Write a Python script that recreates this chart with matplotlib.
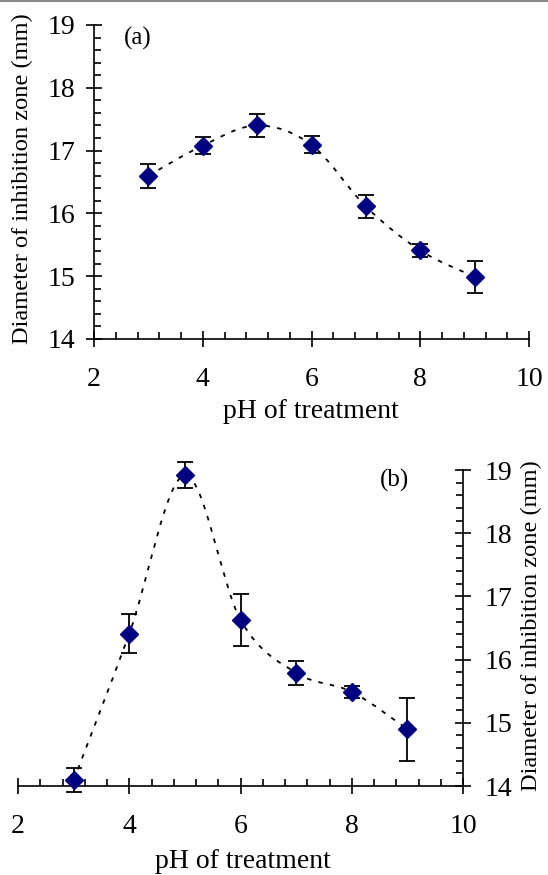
import matplotlib
matplotlib.use("Agg")
import matplotlib.pyplot as plt
from matplotlib.path import Path
from matplotlib.patches import PathPatch
from matplotlib.lines import Line2D
from matplotlib.ticker import MultipleLocator

plt.rcParams['font.family'] = ['Liberation Serif', 'DejaVu Serif']

# ---- data ----
ph = [3, 4, 5, 6, 7, 8, 9]
zone_a = [16.60, 17.08, 17.40, 17.09, 16.11, 15.41, 14.99]
err_a = [0.19, 0.14, 0.18, 0.135, 0.18, 0.10, 0.25]
zone_b = [14.09, 16.41, 18.92, 16.63, 15.79, 15.49, 14.90]
err_b = [0.19, 0.31, 0.21, 0.41, 0.19, 0.10, 0.50]

x_ticks = [2, 4, 6, 8, 10]
y_ticks = [14, 15, 16, 17, 18, 19]
xlabel = "pH of treatment"
ylabel = "Diameter of inhibition zone (mm)"

W, H = 548, 875
fig = plt.figure(figsize=(W / 100, H / 100), dpi=100)
FS = 20
FS_Y = 17.6


def smooth_path(xs, ys):
    """Excel-style smoothed line as cubic Bezier segments through the points."""
    pts = list(zip(xs, ys))
    n = len(pts)
    verts = [pts[0]]
    codes = [Path.MOVETO]
    for i in range(n - 1):
        p0 = pts[i - 1] if i > 0 else pts[i]
        p1 = pts[i]
        p2 = pts[i + 1]
        p3 = pts[i + 2] if i + 2 < n else pts[i + 1]
        c1 = (p1[0] + (p2[0] - p0[0]) / 6, p1[1] + (p2[1] - p0[1]) / 6)
        c2 = (p2[0] - (p3[0] - p1[0]) / 6, p2[1] - (p3[1] - p1[1]) / 6)
        verts += [c1, c2, p2]
        codes += [Path.CURVE4] * 3
    return Path(verts, codes)


def style_axis(ax, right=False):
    ax.set_xlim(2, 10)
    ax.set_ylim(14, 19)
    ax.set_xticks(x_ticks)
    ax.set_yticks(y_ticks)
    ax.xaxis.set_minor_locator(MultipleLocator(0.4))
    ax.yaxis.set_minor_locator(MultipleLocator(0.2))
    for s in ['top', 'right', 'left', 'bottom']:
        ax.spines[s].set_visible(False)
    ax.spines['bottom'].set_visible(True)
    ax.spines['right' if right else 'left'].set_visible(True)
    for s in ax.spines.values():
        s.set_linewidth(1.2)
    if right:
        ax.yaxis.tick_right()
    ax.tick_params(axis='both', which='major', direction='inout', length=11,
                   width=1.2, labelsize=FS, colors='black')
    ax.tick_params(axis='both', which='minor', direction='in', length=5, width=1.2)
    ax.tick_params(axis='x', which='major', pad=15)
    ax.tick_params(axis='y', which='major', pad=8 if not right else 10)
    ax.set_facecolor('none')


def draw(ax, ys, es):
    patch = PathPatch(smooth_path(ph, ys), fill=False, edgecolor='black',
                      linewidth=1.3, linestyle=(0, (2.5, 4)), clip_on=False, zorder=2)
    ax.add_patch(patch)
    ax.errorbar(ph, ys, yerr=es, fmt='none', ecolor='black', elinewidth=1.3,
                capsize=6, capthick=1.3, clip_on=False, zorder=3)
    ax.plot(ph, ys, linestyle='none', marker='D', markersize=9.5,
            color='#000080', markeredgecolor='#000080', clip_on=False, zorder=4)


# ---- panel (a) ----
ax1 = fig.add_axes([94 / W, 1 - 339 / H, 435 / W, 314 / H])
style_axis(ax1)
draw(ax1, zone_a, err_a)
ax1.text(2.80, 18.78, "(a)", fontsize=18, ha='center', va='center')
fig.text(311 / W, 1 - 412 / H, xlabel, fontsize=FS, ha='center', va='center')
fig.text(22 / W, 1 - 179 / H, ylabel, fontsize=FS_Y, ha='center', va='center', rotation=90)

# ---- panel (b) ----
ax2 = fig.add_axes([18 / W, 1 - 786 / H, 445 / W, 316 / H])
style_axis(ax2, right=True)
draw(ax2, zone_b, err_b)
ax2.text(8.76, 18.83, "(b)", fontsize=18, ha='center', va='center')
fig.text(243 / W, 1 - 862 / H, xlabel, fontsize=FS, ha='center', va='center')
fig.text(531 / W, 1 - 626 / H, ylabel, fontsize=FS_Y, ha='center', va='center', rotation=90)

fig.add_artist(Line2D([0, 1], [1 - 0.8 / H, 1 - 0.8 / H], color='#888888', linewidth=1.5))

fig.savefig("out.png", dpi=100)
